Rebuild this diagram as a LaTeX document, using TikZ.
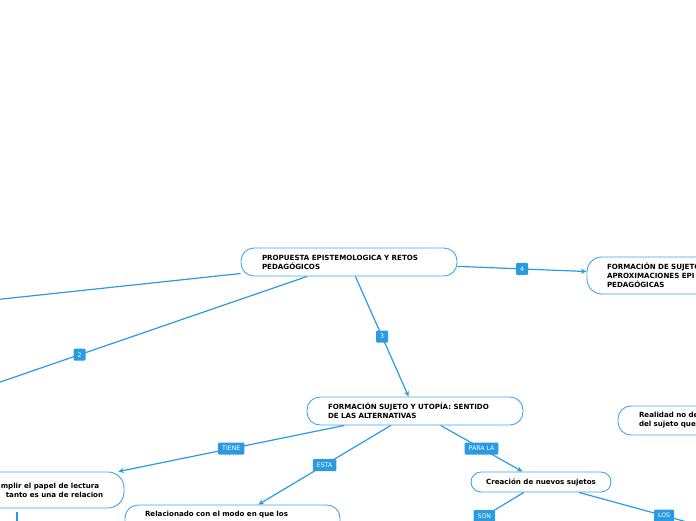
\documentclass[tikz,border=0pt]{standalone}
\usepackage{fontspec}
\setmainfont{DejaVu Sans}
\usetikzlibrary{arrows.meta}

\definecolor{azul}{HTML}{2A9BE2}
\definecolor{borde}{HTML}{3FA6EA}

\begin{document}
\begin{tikzpicture}[x=1pt, y=-1pt, >={Stealth[length=5.5pt, width=5pt]}, line width=1.2pt,
  tema/.style={draw=borde, line width=0.9pt, fill=white, rounded corners=13pt, align=left,
    font=\fontsize{7.1}{9}\selectfont\bfseries},
  enlace/.style={draw=azul, ->},
  etiqueta/.style={fill=azul, text=white, rounded corners=1pt, inner xsep=4pt, inner ysep=0pt,
    minimum width=12pt, minimum height=12pt, font=\fontsize{6.2}{7}\selectfont}]
  \useasboundingbox (0,0) rectangle (696,520);
  \clip (0,0) rectangle (696,520);
  % temas
  \node[tema, text width=174pt, inner xsep=21pt, minimum height=28pt] (propuesta) at (349,262)
    {PROPUESTA EPISTEMOLOGICA Y RETOS\\PEDAGÓGICOS};
  \node[tema, text width=158pt, inner xsep=20pt, minimum height=37pt, rounded corners=15pt] (formacion) at (686,275.5)
    {FORMACIÓN DE SUJETO\\APROXIMACIONES EPI\\PEDAGÓGICAS};
  \node[tema, text width=174pt, inner xsep=21pt, minimum height=28pt] (alternativas) at (415,411)
    {FORMACIÓN SUJETO Y UTOPÍA: SENTIDO\\DE LAS ALTERNATIVAS};
  \node[tema, text width=158pt, inner xsep=21pt, minimum height=29pt] (realidad) at (718,420.5)
    {Realidad no de\\del sujeto que};
  \node[tema, inner xsep=17pt, minimum width=192pt, minimum height=36pt, rounded corners=16pt] (lectura) at (28,490)
    {\hspace*{48pt}mplir el papel de lectura\\\hspace*{53pt}tanto es una de relacion};
  \node[tema, text width=175pt, inner xsep=20pt, minimum height=30pt] (modo) at (232.5,520)
    {Relacionado con el modo en que los\\\strut};
  \node[tema, align=center, minimum width=140pt, minimum height=20pt, rounded corners=10pt] (creacion) at (541,482)
    {Creación de nuevos sujetos};
  % extremos fuera del recorte
  \coordinate (uno) at (-400,342);
  \coordinate (dos) at (-148,433);
  \coordinate (son) at (445,540);
  \coordinate (los) at (749,539);
  \coordinate (abajo) at (17,560);
  % enlaces
  \draw[enlace] (propuesta) -- (uno);
  \draw[enlace] (propuesta) -- node[etiqueta]{2} (dos);
  \draw[enlace] (propuesta) -- node[etiqueta]{3} (alternativas);
  \draw[enlace] (propuesta) -- node[etiqueta]{4} (formacion);
  \draw[enlace] (alternativas) -- node[etiqueta]{TIENE} (lectura);
  \draw[enlace] (alternativas) -- node[etiqueta]{ESTA} (modo);
  \draw[enlace] (alternativas) -- node[etiqueta]{PARA LA} (creacion);
  \draw[enlace] (creacion) -- node[etiqueta]{SON} (son);
  \draw[enlace] (creacion) -- node[etiqueta]{LOS} (los);
  \draw[enlace, shorten <=4pt] (lectura.south -| abajo) -- (abajo);
\end{tikzpicture}
\end{document}
